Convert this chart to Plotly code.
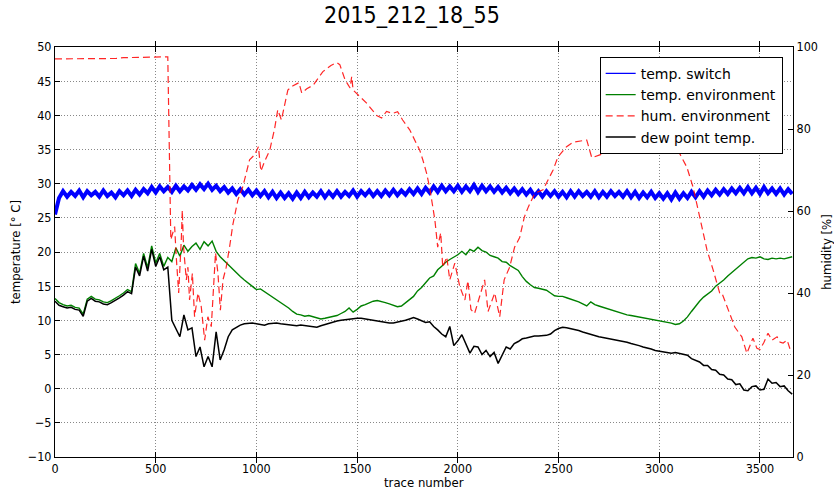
import plotly.graph_objects as go

# ---------------- data ----------------
step = 20
grid_x = list(range(0, 3661, step))  # trace numbers 0..3660

temp_switch = [
    25.5, 27.9, 28.9, 28.1, 28.8, 28.2, 29.0, 28.0, 28.9, 28.3,
    28.8, 28.1, 29.0, 28.2, 28.7, 28.0, 28.9, 28.3, 29.0, 28.2,
    29.1, 28.4, 29.2, 28.6, 29.5, 28.7, 29.6, 28.9, 29.5, 28.8,
    29.7, 28.9, 29.6, 29.0, 29.8, 29.1, 29.9, 29.2, 30.0, 29.1,
    29.7, 28.9, 29.5, 28.7, 29.3, 28.5, 29.2, 28.4, 29.1, 28.3,
    29.0, 28.2, 28.9, 28.0, 28.8, 27.9, 28.7, 27.9, 28.6, 27.8,
    28.7, 27.9, 28.8, 28.0, 28.7, 28.1, 28.9, 28.0, 28.8, 28.1,
    28.9, 28.1, 28.8, 28.2, 29.0, 28.1, 28.9, 28.3, 29.0, 28.2,
    28.9, 28.2, 29.0, 28.3, 29.1, 28.3, 29.0, 28.4, 29.2, 28.5,
    29.3, 28.5, 29.4, 28.7, 29.6, 28.8, 29.7, 28.9, 29.6, 28.9,
    29.7, 28.8, 29.6, 28.9, 29.8, 28.8, 29.7, 28.9, 29.6, 28.8,
    29.5, 28.7, 29.4, 28.6, 29.3, 28.5, 29.2, 28.4, 29.1, 28.2,
    28.9, 28.1, 28.9, 28.2, 28.9, 28.1, 28.8, 28.0, 28.9, 28.1,
    28.9, 28.2, 28.8, 28.1, 28.9, 28.0, 28.8, 28.1, 28.9, 28.2,
    28.8, 28.1, 28.9, 28.0, 28.8, 27.9, 28.7, 28.0, 28.8, 27.9,
    28.6, 27.8, 28.6, 27.7, 28.7, 27.8, 28.6, 27.9, 28.8, 28.0,
    28.9, 28.1, 29.0, 28.3, 29.1, 28.4, 29.2, 28.5, 29.3, 28.6,
    29.4, 28.6, 29.5, 28.6, 29.4, 28.5, 29.5, 28.6, 29.3, 28.5,
    29.3, 28.4, 29.2, 28.5,
]

temp_environment = [
    13.2, 12.6, 12.3, 12.1, 12.2, 11.9, 11.8, 10.9, 13.1, 13.5,
    13.1, 13.0, 12.7, 12.6, 12.9, 13.2, 13.6, 14.0, 14.5, 14.2,
    18.3, 16.9, 19.8, 17.7, 20.9, 18.4, 19.8, 17.9, 19.2, 18.6,
    20.6, 19.4, 21.0, 20.1, 20.8, 21.3, 20.4, 21.5, 20.9, 21.6,
    20.1, 19.3, 18.7, 18.2, 17.6, 17.0, 16.4, 15.9, 15.4, 14.9,
    14.5, 14.6, 14.2, 13.8, 13.4, 13.0, 12.7, 12.3, 11.8, 11.3,
    10.9, 10.8, 10.6, 10.7, 10.5, 10.4, 10.2, 10.3, 10.4, 10.6,
    10.7, 11.0, 11.3, 11.8, 11.2, 11.6, 12.1, 12.3, 12.6, 12.8,
    12.9, 12.8, 12.6, 12.4, 12.2, 12.0, 12.1, 12.6, 13.0, 13.5,
    14.3, 14.8, 15.5, 16.2, 16.5, 17.4, 17.9, 18.5, 18.9, 19.2,
    19.6, 20.1, 19.6, 20.4, 20.1, 20.7, 20.2, 20.0, 19.5, 19.3,
    19.1, 18.6, 18.5, 18.0, 17.6, 17.3, 16.4, 15.7, 15.2, 14.8,
    14.7, 14.6, 14.4, 14.0, 13.6, 13.5, 13.5, 13.3, 13.1, 13.0,
    12.7, 12.4, 12.1, 12.7, 12.3, 12.1, 11.9, 11.8, 11.6, 11.4,
    11.1, 11.0, 10.8, 10.7, 10.6, 10.5, 10.4, 10.3, 10.1, 10.0,
    9.9, 9.8, 9.7, 9.6, 9.4, 9.5, 9.9, 10.5, 11.3, 12.1,
    12.8, 13.4, 13.9, 14.3, 15.0, 15.4, 15.9, 16.5, 17.0, 17.5,
    18.0, 18.5, 19.0, 19.2, 19.1, 19.3, 19.0, 18.9, 19.1, 19.0,
    19.1, 19.0, 19.2, 19.3,
]

dew_point = [
    12.8, 12.2, 12.0, 11.8, 11.9, 11.6, 11.5, 10.6, 12.8, 13.2,
    12.8, 12.7, 12.4, 12.3, 12.6, 12.9, 13.3, 13.7, 14.2, 13.9,
    17.8, 16.5, 19.4, 17.2, 20.4, 17.9, 19.3, 17.4, 17.8, 10.0,
    8.8, 7.6, 10.8, 8.6, 8.9, 4.7, 6.1, 3.2, 4.7, 3.2,
    8.3, 4.2, 5.7, 7.6, 8.6, 9.0, 9.3, 9.5, 9.6, 9.6,
    9.5, 9.4, 9.3, 9.5, 9.6, 9.6, 9.5, 9.4, 9.4, 9.3,
    9.2, 9.3, 9.2, 9.1, 9.1, 9.0, 9.2, 9.4, 9.6, 9.7,
    9.9, 10.0, 10.1, 10.1, 10.2, 10.3, 10.3, 10.2, 10.1, 9.9,
    9.8, 9.8, 9.7, 9.6, 9.6, 9.7, 9.8, 10.0, 10.2, 10.4,
    10.2, 10.0, 9.7, 9.8, 9.1, 8.6, 8.0, 7.6, 9.1, 6.3,
    7.0, 7.9, 6.5, 5.2, 6.2, 6.1, 5.0, 5.6, 4.7, 5.3,
    3.7, 4.9, 6.1, 5.8, 6.6, 6.9, 7.3, 7.4, 7.6, 7.7,
    7.7, 7.7, 7.8, 8.0, 8.5, 8.8, 9.0, 8.9, 8.8, 8.6,
    8.5, 8.3, 8.1, 7.9, 7.8, 7.6, 7.5, 7.4, 7.3, 7.2,
    7.0, 6.9, 6.8, 6.6, 6.5, 6.3, 6.1, 6.0, 5.8, 5.6,
    5.5, 5.4, 5.3, 5.2, 5.3, 5.2, 5.1, 4.9, 4.4, 4.1,
    3.9, 3.4, 3.4, 2.8, 2.7, 2.1, 2.0, 1.4, 1.3, 0.6,
    0.7, -0.2, -0.3, 0.3, 0.4, -0.2, -0.1, 1.4, 0.8, 0.9,
    0.3, 0.4, -0.3, -0.8,
]

hum_x = [
    0, 100, 200, 300, 340, 450, 560, 575, 594, 602, 614, 627, 632, 638, 652,
    660, 668, 682, 693, 710, 726, 743, 759, 776, 797, 809, 821, 834, 850, 867,
    883, 908, 933, 966, 991, 1010, 1022, 1040, 1066, 1090, 1106, 1124, 1156,
    1180, 1211, 1225, 1250, 1282, 1310, 1330, 1370, 1399, 1414, 1440, 1465,
    1473, 1480, 1510, 1547, 1597, 1622, 1646, 1675, 1701, 1726, 1761, 1786,
    1811, 1826, 1845, 1862, 1877, 1886, 1900, 1915, 1925, 1945, 1960, 1985,
    2010, 2035, 2050, 2065, 2083, 2108, 2133, 2150, 2158, 2183, 2200, 2208,
    2230, 2257, 2282, 2307, 2330, 2350, 2382, 2423, 2473, 2497, 2540, 2573,
    2640, 2665, 2705, 2770, 2855, 2905, 2970, 3037, 3093, 3137, 3168, 3202,
    3237, 3267, 3300, 3311, 3342, 3375, 3410, 3435, 3465, 3485, 3500, 3520,
    3540, 3560, 3585, 3600, 3615, 3635, 3650, 3664,
]
hum_environment = [
    97.1, 97.1, 97.2, 97.2, 97.4, 97.5, 97.6, 53.0, 56.2, 48.8, 40.0, 53.0, 60.2, 51.3, 43.2,
    46.3, 38.3, 44.8, 34.2, 40.0, 36.7, 28.5, 34.2, 31.8, 49.8, 44.8, 35.8, 43.2, 46.3, 51.3,
    56.7, 62.7, 66.0, 72.5, 73.7, 75.7, 69.7, 72.0, 74.8, 80.0, 84.7, 82.2, 89.5,
    90.5, 91.3, 88.8, 89.8, 90.7, 92.5, 94.0, 95.5, 96.2, 95.7, 92.0, 90.0,
    92.8, 89.5, 88.0, 86.3, 83.3, 82.7, 84.3, 83.8, 84.2, 82.2, 79.8, 77.3,
    74.8, 72.5, 69.2, 65.2, 60.2, 57.8, 51.2, 54.7, 46.3, 48.8, 43.2, 47.3,
    41.5, 38.3, 43.0, 36.0, 35.0, 39.0, 43.2, 35.5, 36.7, 40.0, 36.0, 34.2,
    43.2, 46.3, 51.2, 53.5, 58.5, 61.0, 64.3, 65.2, 70.0, 73.2, 75.7, 76.8,
    77.3, 73.0, 73.7, 74.8, 77.3, 76.5, 75.7, 74.8, 74.8, 70.7, 65.8, 58.5,
    50.5, 45.7, 40.0, 40.0, 35.8, 31.7, 29.3, 25.3, 29.0, 26.5, 26.2, 28.0,
    30.2, 28.5, 29.3, 28.0, 27.8, 28.5, 26.2, 25.8,
]

title_text = "2015_212_18_55"
x_label = "trace number"
y_label = "temperature [° C]"
y2_label = "humidity [%]"
x_range = [0, 3664]
y_range = [-10, 50]
y2_range = [0, 100]

# ---------------- figure ----------------
COND = "DejaVu Sans Condensed, DejaVu Sans, sans-serif"
NORM = "DejaVu Sans, sans-serif"
BLUE = "#0000ff"

fig = go.Figure()
# dense noisy band of the switch temperature (legend shown by a thin proxy below)
fig.add_trace(go.Scatter(x=grid_x, y=temp_switch, mode="lines", name="temp. switch",
                         showlegend=False, line=dict(color=BLUE, width=4)))
fig.add_trace(go.Scatter(x=[None], y=[None], mode="lines", name="temp. switch",
                         line=dict(color=BLUE, width=1.2)))
fig.add_trace(go.Scatter(x=grid_x, y=temp_environment, mode="lines", name="temp. environment",
                         line=dict(color="#008000", width=1.4)))
fig.add_trace(go.Scatter(x=hum_x, y=hum_environment, mode="lines", name="hum. environment",
                         yaxis="y2", line=dict(color="rgba(255,0,0,0.85)", width=1.2, dash="7px,4px")))
fig.add_trace(go.Scatter(x=grid_x, y=dew_point, mode="lines", name="dew point temp.",
                         line=dict(color="#000000", width=1.5)))

axis_common = dict(
    showline=True, linecolor="black", linewidth=1,
    ticks="inside", ticklen=5, tickcolor="black",
    tickfont=dict(family=COND, size=12.5, color="black"),
    zeroline=False, automargin=False,
)

fig.update_layout(
    width=834, height=490,
    margin=dict(l=55, r=41, t=47, b=33, pad=0),
    paper_bgcolor="white", plot_bgcolor="white",
    title=dict(text=title_text, x=0.494, xref="container", xanchor="center",
               y=0.969, yref="container", yanchor="middle",
               font=dict(family=COND, size=23, color="black")),
    xaxis=dict(range=x_range, dtick=500, tick0=0, mirror="allticks",
               showgrid=True, gridcolor="#888", griddash="1px,2px", gridwidth=1,
               **axis_common),
    yaxis=dict(range=y_range, dtick=5, tick0=-10,
               showgrid=True, gridcolor="#888", griddash="1px,2px", gridwidth=1,
               title=dict(text=y_label, font=dict(family=COND, size=13, color="black"), standoff=4),
               **axis_common),
    yaxis2=dict(range=y2_range, dtick=20, tick0=0, overlaying="y", side="right",
                showgrid=False,
                title=dict(text=y2_label, font=dict(family=COND, size=13, color="black"), standoff=4),
                **axis_common),
    legend=dict(x=0.986, y=0.976, xanchor="right", yanchor="top",
                bgcolor="white", bordercolor="black", borderwidth=1,
                font=dict(family=NORM, size=14, color="black"),
                tracegroupgap=0),
    showlegend=True,
    annotations=[dict(text=x_label, xref="paper", yref="paper", x=0.5, y=-0.061,
                      xanchor="center", yanchor="middle", showarrow=False,
                      font=dict(family=COND, size=13, color="black"))],
)

fig.write_html("out.html")
